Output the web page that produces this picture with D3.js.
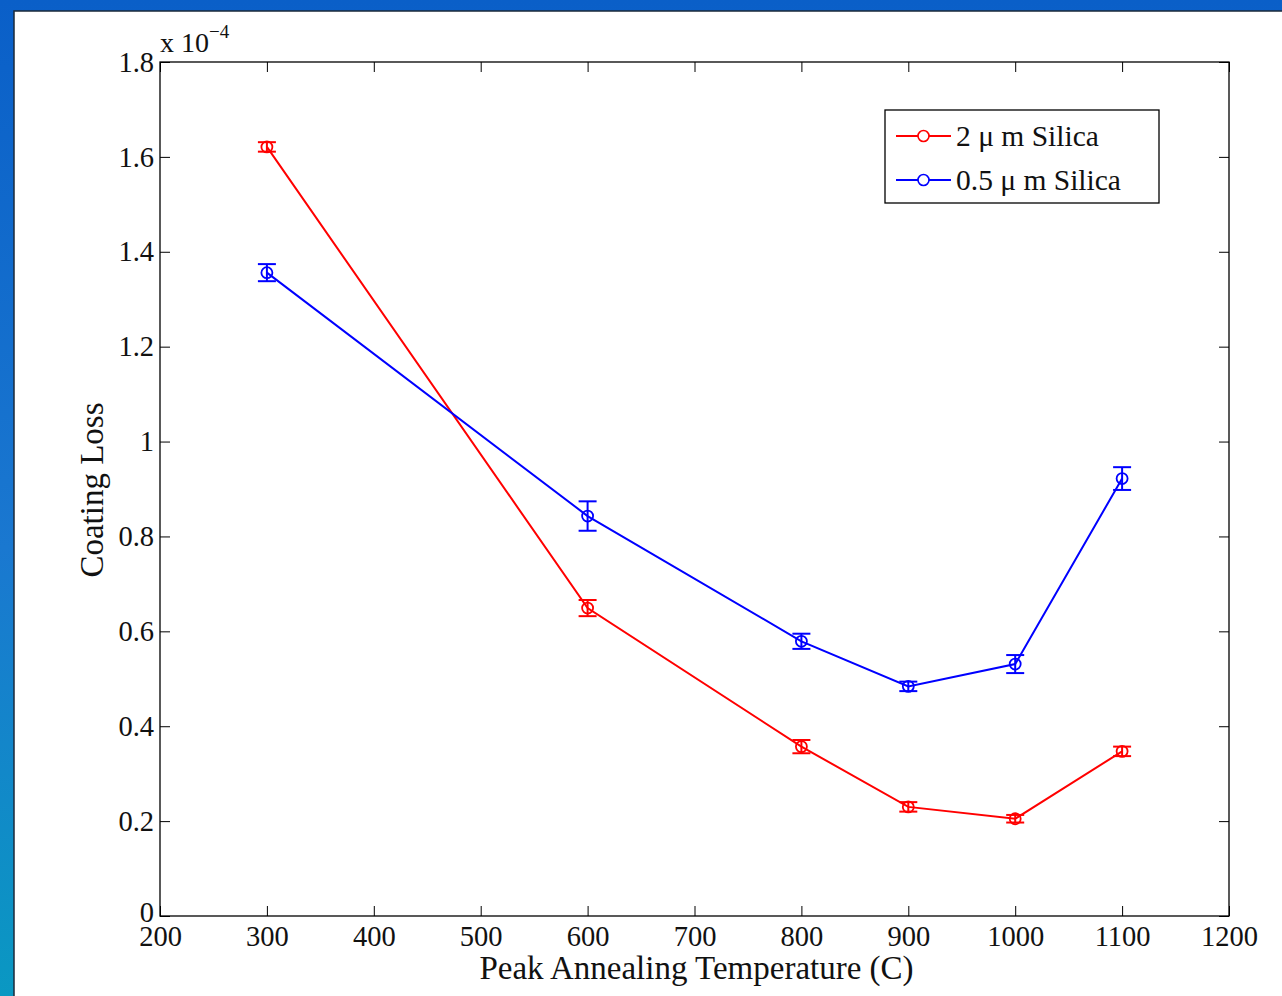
<!DOCTYPE html>
<html>
<head>
<meta charset="utf-8">
<script src="https://cdn.jsdelivr.net/npm/d3@7"></script>
<style>
  html, body { margin: 0; padding: 0; overflow: hidden; }
  svg { display: block; }
  text { font-family: "Liberation Serif", "DejaVu Serif", serif; fill: #111; }
</style>
</head>
<body>
<svg id="chart" width="1282" height="996"></svg>
<script>
// temperatures (C)
const temps = [300, 600, 800, 900, 1000, 1100]
// coating loss, units of 1e-4
const loss2um = [1.621, 0.649, 0.357, 0.230, 0.205, 0.347]
const err2um = [0.010, 0.017, 0.014, 0.010, 0.008, 0.010]
const loss05um = [1.356, 0.843, 0.579, 0.484, 0.531, 0.922]
const err05um = [0.018, 0.031, 0.016, 0.010, 0.019, 0.024]
const seriesNames = ['2 \u03bc m Silica', '0.5 \u03bc m Silica']
const seriesColors = ['#ff0000', '#0000ff']
const xTicks = [200, 300, 400, 500, 600, 700, 800, 900, 1000, 1100, 1200]
const yTicks = [0, 0.2, 0.4, 0.6, 0.8, 1, 1.2, 1.4, 1.6, 1.8]

const svg = d3.select('#chart')

// slide background
const defs = svg.append('defs')
const grad = defs.append('linearGradient').attr('id', 'bg')
  .attr('x1', '0%').attr('y1', '0%').attr('x2', '0%').attr('y2', '100%')
grad.append('stop').attr('offset', '0%').attr('stop-color', '#0a5fc8')
grad.append('stop').attr('offset', '55%').attr('stop-color', '#1a78d0')
grad.append('stop').attr('offset', '100%').attr('stop-color', '#0a98c2')
svg.append('rect').attr('width', 1282).attr('height', 996).attr('fill', 'url(#bg)')
svg.append('rect').attr('x', 14).attr('y', 11).attr('width', 1290).attr('height', 1000)
  .attr('fill', '#fff').attr('stroke', '#1b2a3a').attr('stroke-width', 1.5)

const plotL = 160, plotR = 1229, plotT = 62, plotB = 916

const x = d3.scaleLinear().domain([200, 1200]).range([plotL, plotR])
const y = d3.scaleLinear().domain([0, 1.8]).range([plotB, plotT])

const g = svg.append('g')

// box
g.append('rect').attr('x', plotL).attr('y', plotT).attr('width', plotR - plotL).attr('height', plotB - plotT)
  .attr('fill', 'none').attr('stroke', '#000').attr('stroke-width', 1.3)

const tickLen = 10
const fmtY = d => d === 0 ? '0' : String(+d.toFixed(1))

// bottom axis
const xb = g.append('g').attr('transform', `translate(0,${plotB})`)
  .call(d3.axisBottom(x).tickValues(xTicks).tickSize(-tickLen).tickPadding(10).tickFormat(d3.format('d')))
// top axis
g.append('g').attr('transform', `translate(0,${plotT})`)
  .call(d3.axisTop(x).tickValues(xTicks).tickSize(-tickLen).tickFormat(''))
// left axis
const yl = g.append('g').attr('transform', `translate(${plotL},0)`)
  .call(d3.axisLeft(y).tickValues(yTicks).tickSize(-tickLen).tickPadding(6).tickFormat(fmtY))
// right axis
g.append('g').attr('transform', `translate(${plotR},0)`)
  .call(d3.axisRight(y).tickValues(yTicks).tickSize(-tickLen).tickFormat(''))

g.selectAll('.domain').remove()
g.selectAll('.tick line').attr('stroke', '#000').attr('stroke-width', 1)
xb.selectAll('text').attr('font-size', 28.5).attr('fill', '#111')
  .attr('font-family', '"Liberation Serif", serif').attr('dy', '0.71em')
yl.selectAll('text').attr('font-size', 28.5).attr('fill', '#111')
  .attr('font-family', '"Liberation Serif", serif')
// the zero label sits a little higher, as in the original
yl.selectAll('.tick text').filter(d => d === 0).attr('dy', '0.2em')

// exponent label
const exp = svg.append('text').attr('x', 160).attr('y', 52).attr('font-size', 28)
exp.append('tspan').text('x 10')
exp.append('tspan').text('\u22124').attr('font-size', 19).attr('dy', -14)

// axis titles
svg.append('text').attr('x', (plotL + plotR) / 2 + 2).attr('y', 979)
  .attr('text-anchor', 'middle').attr('font-size', 33).text('Peak Annealing Temperature (C)')
svg.append('text').attr('transform', 'translate(103,490) rotate(-90)')
  .attr('text-anchor', 'middle').attr('font-size', 33).text('Coating Loss')

// series
const series = [
  { vals: loss2um, errs: err2um },
  { vals: loss05um, errs: err05um }
]
const line = d3.line().x(d => x(d.t)).y(d => y(d.v))

series.forEach((s, i) => {
  const pts = temps.map((t, k) => ({ t: t, v: s.vals[k], e: s.errs[k] }))
  const col = seriesColors[i]
  const sg = g.append('g')
  sg.append('path').attr('d', line(pts)).attr('fill', 'none')
    .attr('stroke', col).attr('stroke-width', 2)
  const eb = sg.selectAll('.eb').data(pts).enter().append('g')
  eb.append('line').attr('x1', d => x(d.t)).attr('x2', d => x(d.t))
    .attr('y1', d => y(d.v - d.e)).attr('y2', d => y(d.v + d.e))
    .attr('stroke', col).attr('stroke-width', 2)
  eb.append('line').attr('x1', d => x(d.t) - 9).attr('x2', d => x(d.t) + 9)
    .attr('y1', d => y(d.v - d.e)).attr('y2', d => y(d.v - d.e))
    .attr('stroke', col).attr('stroke-width', 2)
  eb.append('line').attr('x1', d => x(d.t) - 9).attr('x2', d => x(d.t) + 9)
    .attr('y1', d => y(d.v + d.e)).attr('y2', d => y(d.v + d.e))
    .attr('stroke', col).attr('stroke-width', 2)
  eb.append('circle').attr('cx', d => x(d.t)).attr('cy', d => y(d.v)).attr('r', 5.5)
    .attr('fill', 'none').attr('stroke', col).attr('stroke-width', 1.8)
})

// legend
const lg = svg.append('g').attr('transform', 'translate(885,110)')
lg.append('rect').attr('width', 274).attr('height', 93).attr('fill', '#fff')
  .attr('stroke', '#000').attr('stroke-width', 1.3)
seriesNames.forEach((name, i) => {
  const yy = 26 + i * 44
  lg.append('line').attr('x1', 11).attr('x2', 66).attr('y1', yy).attr('y2', yy)
    .attr('stroke', seriesColors[i]).attr('stroke-width', 2)
  lg.append('circle').attr('cx', 38.5).attr('cy', yy).attr('r', 5.5)
    .attr('fill', '#fff').attr('stroke', seriesColors[i]).attr('stroke-width', 1.6)
  lg.append('text').attr('x', 71).attr('y', yy + 10).attr('font-size', 29.5).text(name)
})
</script>
</body>
</html>
